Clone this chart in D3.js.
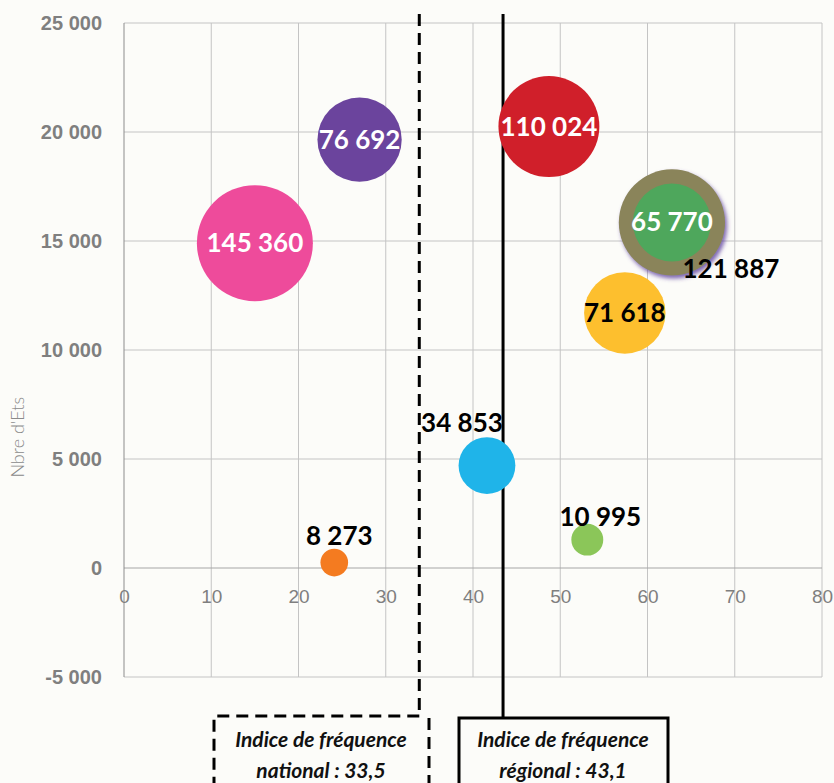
<!DOCTYPE html>
<html lang="fr">
<head>
    <meta charset="UTF-8">
    <title>Indice de fréquence</title>
    <script src="https://d3js.org/d3.v7.min.js"></script>
    <style>
        body { margin: 0; background: #fcfcf9; }
        svg { display: block; font-family: Lato, "Open Sans", sans-serif; }
        .grid line { stroke: #c4c4c4; stroke-width: 1; }
        .ytick { font-size: 20px; font-weight: bold; fill: #7f7f7f; }
        .xtick { font-size: 19px; fill: #7f7f7f; }
        .ytitle { font-size: 18px; font-weight: 300; fill: #8a8a8a; }
        .bubble-label { font-size: 26px; font-weight: bold; }
        .box-text { font-size: 21px; font-weight: bold; font-style: italic; fill: #111; }
    </style>
</head>
<body>
<svg id="chart" width="834" height="783"></svg>
<script>
    // bubbles: indice de fréquence (x), nombre d'établissements (y), effectif (taille)
    const xValues = [15.0, 27.0, 48.7, 62.8, 62.8, 57.4, 41.6, 53.1, 24.1];
    const yValues = [14900, 19650, 20250, 15850, 15850, 11700, 4700, 1300, 250];
    const sizes = [145360, 76692, 110024, 121887, 65770, 71618, 34853, 10995, 8273];
    const colors = ["#ee4b9b", "#6b449d", "#d01f2a", "#8a845a", "#4ea75c", "#fdbf2e", "#1fb4e9", "#8bc659", "#f47b20"];
    const labelColors = ["#fff", "#fff", "#fff", "#000", "#fff", "#000", "#000", "#000", "#000"];

    const xTicks = [0, 10, 20, 30, 40, 50, 60, 70, 80];
    const yTicks = [-5000, 0, 5000, 10000, 15000, 20000, 25000];

    const refNational = 33.5;
    const refRegional = 43.1;
    const refTexts = [["Indice de fréquence", "national : 33,5"], ["Indice de fréquence", "régional : 43,1"]];

    // décalage des étiquettes par rapport au centre des bulles (px)
    const labelShift = [[0, 9], [0, 9], [0, 9], [59, 56], [0, 9], [0, 9], [-25, -34], [13, -14], [5, -18]];

    const svg = d3.select("#chart");
    const x = d3.scaleLinear().domain([0, 80]).range([124, 822]);
    const y = d3.scaleLinear().domain([-5000, 25000]).range([677, 23]);
    const r = d3.scaleSqrt().domain([0, 145360]).range([0, 58]);
    const fmt = d3.formatLocale({ decimal: ",", thousands: " ", grouping: [3], currency: ["", "€"], minus: "-" }).format(",d");

    // grille
    const grid = svg.append("g").attr("class", "grid");
    grid.selectAll(".v").data(xTicks.slice(1)).join("line")
        .attr("x1", d => x(d)).attr("x2", d => x(d))
        .attr("y1", y(25000)).attr("y2", y(-5000));
    grid.selectAll(".h").data(yTicks).join("line")
        .attr("x1", x(0)).attr("x2", x(80))
        .attr("y1", d => y(d)).attr("y2", d => y(d))
        .style("stroke", d => d === 0 ? "#a6a6a6" : null);
    svg.append("line")
        .attr("x1", x(0)).attr("x2", x(0))
        .attr("y1", y(25000)).attr("y2", y(-5000))
        .attr("stroke", "#8c8c8c");

    // axes
    const yAxis = d3.axisLeft(y).tickValues(yTicks).tickSize(0).tickPadding(22).tickFormat(fmt);
    svg.append("g").attr("transform", `translate(${x(0)},0)`).call(yAxis)
        .call(g => g.select(".domain").remove())
        .selectAll("text").attr("class", "ytick");

    const xAxis = d3.axisBottom(x).tickValues(xTicks).tickSize(0).tickPadding(0);
    svg.append("g").attr("transform", `translate(0,${y(0) + 21})`).call(xAxis)
        .call(g => g.select(".domain").remove())
        .selectAll("text").attr("class", "xtick");

    svg.append("text").attr("class", "ytitle")
        .attr("transform", `translate(24,${y(6000)}) rotate(-90)`)
        .attr("text-anchor", "middle")
        .text("Nbre d'Ets");

    // lignes de référence et encadrés
    svg.append("line")
        .attr("x1", x(refNational) + 3).attr("x2", x(refNational) + 3)
        .attr("y1", 14).attr("y2", 716)
        .attr("stroke", "#000").attr("stroke-width", 3).attr("stroke-dasharray", "12,7");
    svg.append("line")
        .attr("x1", x(refRegional) + 3).attr("x2", x(refRegional) + 3)
        .attr("y1", 14).attr("y2", 718)
        .attr("stroke", "#000").attr("stroke-width", 3);

    svg.append("path")
        .attr("d", `M${x(refNational) + 3},716 H214 V800 M429,718 V800`)
        .attr("fill", "none").attr("stroke", "#000").attr("stroke-width", 3).attr("stroke-dasharray", "12,7");
    svg.append("rect")
        .attr("x", 459).attr("y", 718).attr("width", 209).attr("height", 90)
        .attr("fill", "none").attr("stroke", "#000").attr("stroke-width", 3);

    const boxCenters = [321, 563];
    refTexts.forEach((lines, i) => {
        const t = svg.append("text").attr("class", "box-text").attr("text-anchor", "middle");
        lines.forEach((s, j) => t.append("tspan").attr("x", boxCenters[i]).attr("y", 747 + j * 31).text(s));
    });

    // ombre pour la bulle olive
    const defs = svg.append("defs");
    const f = defs.append("filter").attr("id", "shadow").attr("x", "-20%").attr("y", "-20%").attr("width", "150%").attr("height", "150%");
    f.append("feDropShadow").attr("dx", 2).attr("dy", 3).attr("stdDeviation", 2)
        .attr("flood-color", "#5b3f9e").attr("flood-opacity", 0.8);

    const data = sizes.map((v, i) => ({ x: xValues[i], y: yValues[i], v, color: colors[i], lc: labelColors[i], shift: labelShift[i] }));

    svg.append("g").selectAll("circle").data(data).join("circle")
        .attr("cx", d => x(d.x)).attr("cy", d => y(d.y)).attr("r", d => r(d.v))
        .attr("fill", d => d.color)
        .attr("filter", (d, i) => i === 3 ? "url(#shadow)" : null);

    svg.append("g").selectAll("text").data(data).join("text")
        .attr("class", "bubble-label")
        .attr("fill", d => d.lc)
        .attr("text-anchor", "middle")
        .attr("x", d => x(d.x) + d.shift[0])
        .attr("y", d => y(d.y) + d.shift[1])
        .text(d => fmt(d.v));
</script>
</body>
</html>
